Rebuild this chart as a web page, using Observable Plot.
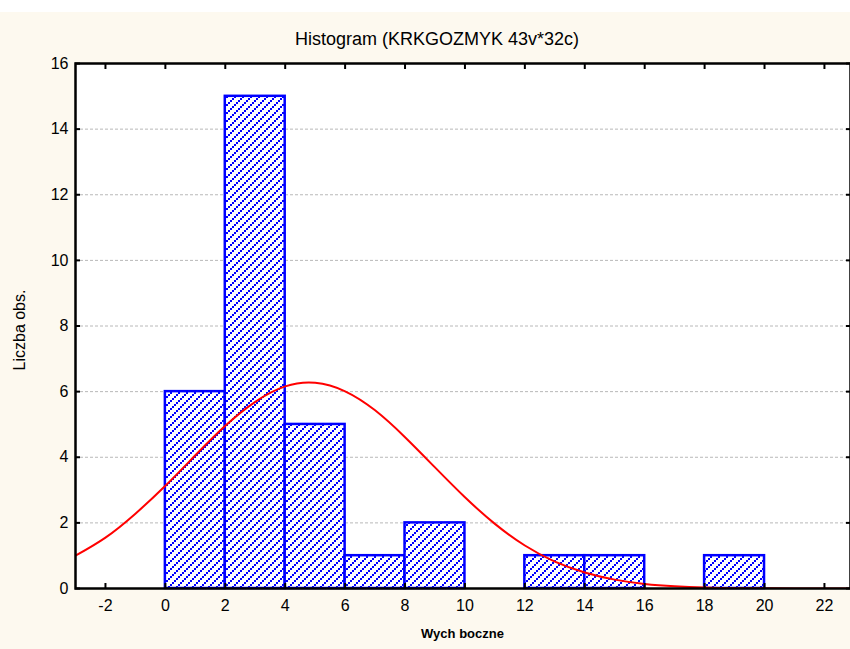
<!DOCTYPE html>
<html>
<head>
<meta charset="utf-8">
<script src="https://cdn.jsdelivr.net/npm/d3@7"></script>
<script src="https://cdn.jsdelivr.net/npm/@observablehq/plot@0.6"></script>
<style>
  html, body { margin: 0; padding: 0; background: #ffffff; overflow: hidden; }
  #wrap { position: relative; width: 850px; height: 637px; margin-top: 12px; background: #fdf9ef; font-family: "Liberation Sans", Arial, sans-serif; }
  #title { position: absolute; left: 0; width: 874px; top: 17px; text-align: center; font-size: 18px; color: #000; }
  #xlabel { position: absolute; left: 75px; width: 775px; top: 614px; text-align: center; font-size: 13px; font-weight: bold; color: #000; }
  #ylabel { position: absolute; left: 20px; top: 318px; transform: translate(-50%, -50%) rotate(-90deg); white-space: nowrap; font-size: 16px; color: #000; }
  #chart { position: absolute; left: 0; top: 0; }
</style>
</head>
<body>
<div id="wrap">
  <div id="chart"></div>
  <div id="title">Histogram (KRKGOZMYK 43v*32c)</div>
  <div id="xlabel">Wych boczne</div>
  <div id="ylabel">Liczba obs.</div>
</div>
<script>
// Histogram bins (lower edge), width 2
const binStart = [0, 2, 4, 6, 8, 10, 12, 14, 16, 18];
const counts   = [6, 15, 5, 1, 2, 0, 1, 1, 0, 1];
const binWidth = 2;

// Fitted normal curve
const curveX = [-3, -2, -1, 0, 1, 2, 3, 4, 5, 6, 7, 8, 9, 10, 11, 12, 13, 14, 15, 16, 17, 18, 19, 20, 21, 22, 23];
const curveY = [1.00, 1.55, 2.28, 3.13, 4.06, 4.96, 5.69, 6.16, 6.27, 6.01, 5.43, 4.61, 3.69, 2.78, 1.97, 1.31, 0.82, 0.49, 0.27, 0.14, 0.07, 0.03, 0.01, 0.005, 0.002, 0.001, 0];

// Tick labels
const xTicks = [-2, 0, 2, 4, 6, 8, 10, 12, 14, 16, 18, 20, 22];
const yTicks = [0, 2, 4, 6, 8, 10, 12, 14, 16];
const gridTicks = [2, 4, 6, 8, 10, 12, 14];

const bins = binStart.map((x0, i) => ({x0, x1: x0 + binWidth, count: counts[i]})).filter(d => d.count > 0);
const curve = curveX.map((x, i) => ({x, y: curveY[i]}));
const fmt = d => String(d);

const chart = Plot.plot({
  width: 850,
  height: 637,
  marginLeft: 75,
  marginRight: 0,
  marginTop: 51,
  marginBottom: 61,
  x: {domain: [-3, 22.87]},
  y: {domain: [0, 16]},
  style: {fontFamily: "'Liberation Sans', Arial, sans-serif", fontSize: "16px", background: "transparent", color: "#000", overflow: "visible"},
  marks: [
    Plot.frame({fill: "white", stroke: null}),
    Plot.gridY(gridTicks, {stroke: "#b8b8b8", strokeOpacity: 1, strokeDasharray: "3,2"}),
    Plot.rectY(bins, {x1: "x0", x2: "x1", y: "count", fill: "white", inset: 0}),
    Plot.rectY(bins, {x1: "x0", x2: "x1", y: "count", fill: "url(#hatch)", stroke: "#0000ff", strokeWidth: 2.5, inset: 0}),
    Plot.line(curve, {x: "x", y: "y", stroke: "#ff0000", strokeWidth: 2, curve: "natural", clip: true}),
    Plot.frame({stroke: "black", strokeWidth: 2.5}),
    // inward ticks
    Plot.axisY(yTicks, {anchor: "left", tickSize: 5, dx: 5, text: null, label: null, strokeWidth: 2}),
    Plot.axisY(yTicks, {anchor: "right", tickSize: 5, dx: -5, text: null, label: null, strokeWidth: 2}),
    Plot.axisX(xTicks, {anchor: "bottom", tickSize: 5, dy: -5, text: null, label: null, strokeWidth: 2}),
    Plot.axisX(xTicks, {anchor: "top", tickSize: 5, dy: 5, text: null, label: null, strokeWidth: 2}),
    // tick labels
    Plot.axisY(yTicks, {anchor: "left", tickSize: 0, tickPadding: 7, label: null, fontSize: 16, tickFormat: fmt}),
    Plot.axisX(xTicks, {anchor: "bottom", tickSize: 0, tickPadding: 11, label: null, fontSize: 16, tickFormat: fmt})
  ]
});

// hatch pattern definition
const ns = "http://www.w3.org/2000/svg";
const defs = document.createElementNS(ns, "defs");
const pat = document.createElementNS(ns, "pattern");
pat.setAttribute("id", "hatch");
pat.setAttribute("patternUnits", "userSpaceOnUse");
pat.setAttribute("width", "8");
pat.setAttribute("height", "8");
const bg = document.createElementNS(ns, "rect");
bg.setAttribute("width", "8"); bg.setAttribute("height", "8"); bg.setAttribute("fill", "white");
pat.appendChild(bg);
[[0, 6], [2, 4], [4, 2], [6, 0]].forEach(([x, y]) => {
  const r = document.createElementNS(ns, "rect");
  r.setAttribute("x", x); r.setAttribute("y", y);
  r.setAttribute("width", "2"); r.setAttribute("height", "2");
  r.setAttribute("fill", "#0000ff");
  pat.appendChild(r);
});
defs.appendChild(pat);
chart.insertBefore(defs, chart.firstChild);

document.getElementById("chart").appendChild(chart);
</script>
</body>
</html>
